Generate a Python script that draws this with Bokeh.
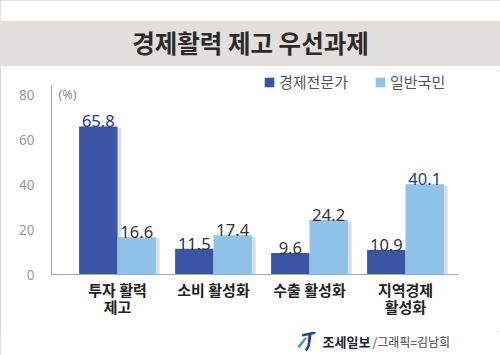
from bokeh.plotting import figure
from bokeh.layouts import column, row
from bokeh.models import (Range1d, FixedTicker, ColumnDataSource, Legend, LegendItem, Label)
from bokeh.transform import dodge
from bokeh.core.properties import value
from bokeh.embed import file_html
from bokeh.resources import INLINE

# ---- data ----
title = "경제활력 제고 우선과제"
categories = ["투자 활력\n제고", "소비 활성화", "수출 활성화", "지역경제\n활성화"]
series_names = ["경제전문가", "일반국민"]
experts = [65.8, 11.5, 9.6, 10.9]
public = [16.6, 17.4, 24.2, 40.1]
y_ticks = [0, 20, 40, 60, 80]
y_axis_top = 84
unit_label = "(%)"
source_name = "조세일보"
credit = "/그래픽=김남희"

DARK = "#3a55a5"
LIGHT = "#8ec3ea"
NAVY = "#263a8c"
KR = "Noto Sans CJK KR"
W = 500


def hl(vals):
    m = max(vals)
    return [NAVY if v == m else "#333333" for v in vals]


src = ColumnDataSource(dict(
    x=list(range(len(categories))),
    experts=experts,
    public=public,
    experts_txt=["%.1f" % v for v in experts],
    public_txt=["%.1f" % v for v in public],
    experts_col=hl(experts),
    public_col=hl(public),
    experts_sh=[v - 0.6 for v in experts],
    public_sh=[v - 0.6 for v in public],
))


def blank(height):
    f = figure(width=W, height=height, x_range=Range1d(0, W), y_range=Range1d(0, height),
               min_border=0, output_backend="svg", toolbar_location=None,
               x_axis_location=None, y_axis_location=None)
    f.grid.visible = False
    f.outline_line_color = None
    return f


# ---- header ----
h = blank(70)
h.quad(left=0, right=W, bottom=5, top=49, color="#e3dfdc")
h.text(x=[W / 2], y=[28], text=[title], text_align="center", text_baseline="middle",
       text_font=value(KR), text_font_style="bold", text_font_size="24.5px",
       text_color="#2b2b2b")

# ---- main chart ----
p = figure(width=W, height=261, x_range=Range1d(-0.6875, 3.552), y_range=Range1d(0, 90.67),
           min_border_left=51, min_border_right=42, min_border_top=0, min_border_bottom=57,
           output_backend="svg", toolbar_location=None)
p.grid.visible = False
p.outline_line_color = None

p.vbar(x=dodge("x", -0.2 + 0.04, range=p.x_range), top="experts_sh", width=0.4, source=src,
       fill_color="#d6d6d6", line_color=None, fill_alpha=0.8)
p.vbar(x=dodge("x", 0.2 + 0.04, range=p.x_range), top="public_sh", width=0.4, source=src,
       fill_color="#d6d6d6", line_color=None, fill_alpha=0.8)
r1 = p.vbar(x=dodge("x", -0.2, range=p.x_range), top="experts", width=0.4, source=src,
            fill_color=DARK, line_color=None)
r2 = p.vbar(x=dodge("x", 0.2, range=p.x_range), top="public", width=0.4, source=src,
            fill_color=LIGHT, line_color=None)

for key, off in (("experts", -0.2), ("public", 0.2)):
    p.text(x=dodge("x", off, range=p.x_range), y=key, text=key + "_txt", source=src,
           text_align="center", text_baseline="alphabetic", y_offset=-5,
           text_font=value("Noto Sans"), text_font_size="16.5px", text_color=key + "_col")

p.yaxis.ticker = FixedTicker(ticks=y_ticks)
p.yaxis.bounds = (0, y_axis_top)
p.yaxis.major_tick_line_color = None
p.yaxis.minor_tick_line_color = None
p.yaxis.axis_line_color = "#a8a8a8"
p.yaxis.major_label_text_color = "#9a9a9a"
p.yaxis.major_label_text_font = "Noto Sans"
p.yaxis.major_label_text_font_size = "13.5px"
p.yaxis.major_label_standoff = 11

p.xaxis.ticker = FixedTicker(ticks=list(range(len(categories))))
p.xaxis.major_label_overrides = {i: c for i, c in enumerate(categories)}
p.xaxis.major_tick_line_color = None
p.xaxis.minor_tick_line_color = None
p.xaxis.axis_line_color = "#a8a8a8"
p.xaxis.major_label_text_color = "#222222"
p.xaxis.major_label_text_font = KR
p.xaxis.major_label_text_font_style = "bold"
p.xaxis.major_label_text_font_size = "15px"
p.xaxis.major_label_text_line_height = 0.85
p.xaxis.major_label_standoff = -2

p.add_layout(Label(x=7, y=180, x_units="screen", y_units="screen", text=unit_label,
                   text_font_size="12.5px", text_color="#8a8a8a", text_baseline="middle",
                   text_font="Noto Sans"))

legend = Legend(items=[LegendItem(label=series_names[0], renderers=[r1]),
                       LegendItem(label=series_names[1], renderers=[r2])],
                location=(212, 182), orientation="horizontal",
                glyph_width=12, glyph_height=12, label_standoff=4, spacing=26,
                padding=0, margin=0, border_line_color=None, background_fill_alpha=0,
                label_text_font=KR, label_text_font_size="15px",
                label_text_color="#555555", label_height=12)
p.add_layout(legend, "center")

# ---- footer ----
f = blank(24)
f.patch(x=[302, 314.5, 314.5, 302], y=[19.5, 22, 23.5, 21], color="#1e3f8f")
f.patch(x=[308.5, 310.5, 309, 306.5, 305, 307.5], y=[21, 21, 10, 5, 5.5, 10.5], color="#1e3f8f")
f.patch(x=[297.5, 304, 306, 299], y=[9, 17, 17.5, 8], color="#3f8fd6")
f.text(x=[322], y=[14], text=[source_name], text_baseline="middle", text_font=value(KR),
       text_font_style="bold", text_font_size="13px", text_color="#1a1f3a")
f.text(x=[372], y=[14], text=[credit], text_baseline="middle", text_font=value(KR),
       text_font_size="12px", text_color="#444444")

layout = column(row(h), row(p), row(f), spacing=0,
                styles={"outline": "1px solid #c4c4c4", "outline-offset": "-1px"})

open("out.html", "w").write(file_html(layout, INLINE))
